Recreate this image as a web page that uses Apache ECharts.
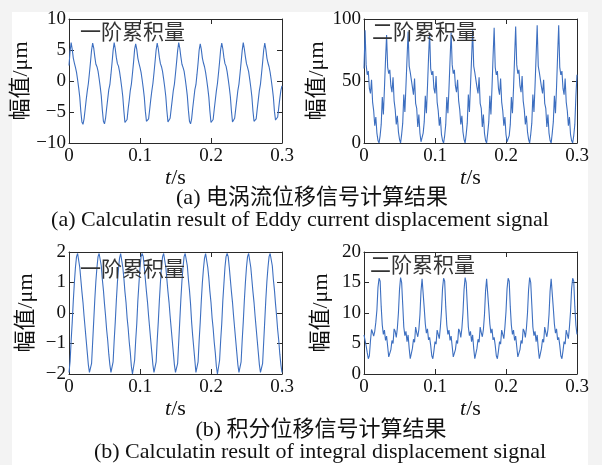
<!DOCTYPE html>
<html>
<head>
<meta charset="utf-8">
<script src="https://cdn.jsdelivr.net/npm/echarts@6/dist/echarts.min.js"></script>
<style>
  html, body { margin: 0; padding: 0; background: #f3f3f3; }
  #chart { width: 602px; height: 465px; }
</style>
</head>
<body>
<div id="chart"></div>
<script>
// sample step of all four signals, s
const dt = 0.001515;

const timeTicks = [0, 0.1, 0.2, 0.3];

// (a) eddy current signal, first order cumulant, um
const eddyFirst = [
  2.5, 4.8,
  6.2, 5.1, 3.7, 2.9, 2.2, 1.4, 0.2, -1.1, -2.6, -4.9, -6.6, -7.0, -6.1, -4.6, -3.0, -1.6, -0.4, 1.3, 3.1, 5.0,
  6.1, 5.3, 3.9, 2.7, 2.3, 1.6, 0.4, -0.9, -2.4, -4.7, -6.5, -6.9, -6.0, -4.4, -2.9, -1.4, -0.6, 1.1, 2.9, 4.9,
  6.2, 5.2, 3.8, 2.8, 2.4, 1.5, 0.3, -1.0, -2.5, -4.8, -6.7, -7.0, -6.2, -4.5, -3.1, -1.5, -0.5, 1.2, 3.0, 5.1,
  6.0, 5.1, 3.7, 2.9, 2.2, 1.4, 0.2, -1.1, -2.6, -4.9, -6.5, -6.8, -6.1, -4.6, -3.0, -1.6, -0.4, 1.3, 3.1, 5.0,
  6.1, 5.2, 3.8, 2.8, 2.3, 1.5, 0.3, -1.0, -2.5, -4.8, -6.6, -6.9, -6.0, -4.5, -3.0, -1.5, -0.5, 1.2, 3.0, 4.9,
  6.2, 5.3, 3.9, 2.7, 2.2, 1.6, 0.4, -0.9, -2.4, -4.7, -6.5, -6.9, -6.1, -4.4, -2.9, -1.4, -0.6, 1.1, 2.9, 5.0,
  6.0, 5.1, 3.7, 2.9, 2.3, 1.4, 0.2, -1.1, -2.6, -4.9, -6.7, -7.0, -6.2, -4.6, -3.1, -1.6, -0.4, 1.3, 3.1, 5.1,
  6.1, 5.2, 3.8, 2.8, 2.4, 1.5, 0.3, -1.0, -2.5, -4.8, -6.6, -6.9, -6.0, -4.5, -3.0, -1.5, -0.5, 1.2, 3.0, 4.9,
  6.2, 5.2, 3.9, 2.8, 2.2, 1.5, 0.3, -1.0, -2.5, -4.8, -6.5, -6.8, -6.1, -4.5, -3.0, -1.5, -0.5, 1.2, 3.0, 5.0,
  6.1, 5.1, 3.7, 2.9, 2.3, 1.4, 0.2, -1.1, -2.6, -4.9, -6.3, -6.6, -5.8, -4.3, -2.8, -1.5, -0.8
];
const eddyFirstTicks = [-10, -5, 0, 5, 10];

// (a) eddy current signal, second order cumulant
const eddySecond = [
  60,
  91, 63, 55, 58, 44, 40, 51, 33, 26, 14, 21, 8, 2, 0, 6, 15, 37, 23, 44, 67,
  87, 61, 56, 59, 46, 41, 53, 34, 27, 15, 22, 9, 3, 0, 7, 16, 39, 25, 46, 68,
  90, 62, 57, 57, 45, 39, 52, 32, 28, 13, 23, 8, 1, 0, 8, 17, 38, 24, 45, 69,
  89, 60, 55, 58, 44, 40, 54, 33, 26, 14, 21, 7, 2, 0, 6, 15, 37, 24, 44, 67,
  89, 63, 56, 59, 46, 41, 51, 34, 27, 15, 22, 9, 3, 0, 7, 16, 39, 25, 46, 68,
  91, 62, 57, 57, 45, 40, 53, 32, 28, 13, 23, 8, 2, 0, 8, 17, 38, 23, 45, 70,
  93, 61, 55, 58, 44, 39, 52, 33, 26, 14, 21, 7, 1, 0, 6, 15, 37, 24, 44, 69,
  94, 63, 56, 59, 46, 41, 54, 34, 27, 15, 22, 9, 3, 0, 7, 16, 39, 25, 46, 70,
  95, 62, 57, 57, 45, 40, 51, 32, 28, 13, 23, 8, 2, 0, 8, 17, 38, 24, 45, 71,
  95, 61, 55, 58, 44, 39, 52, 33, 26, 14, 21, 7, 2, 0, 6, 15, 38, 55
];
const eddySecondTicks = [0, 50, 100];

// (b) integral signal, first order cumulant
const integFirst = [
  -1.95, -1.6, -0.9, -0.3, 0.4, 1.0, 1.5, 1.85, 1.95, 1.9, 1.5, 1.1, 0.7, 0.35, -0.1, -0.5, -0.9, -1.3, -1.7, -1.95,
  -2.0, -1.65, -0.95, -0.25, 0.45, 1.05, 1.5, 1.85, 1.95, 1.9, 1.55, 1.1, 0.75, 0.3, -0.1, -0.55, -0.9, -1.35, -1.7, -1.95,
  -1.95, -1.6, -0.9, -0.3, 0.4, 1.0, 1.45, 1.8, 1.95, 1.9, 1.5, 1.15, 0.7, 0.35, -0.15, -0.5, -0.95, -1.3, -1.75, -2.0,
  -1.95, -1.55, -0.9, -0.35, 0.4, 0.95, 1.5, 1.85, 1.95, 1.85, 1.5, 1.1, 0.7, 0.35, -0.1, -0.5, -0.9, -1.3, -1.7, -1.95,
  -1.95, -1.6, -0.9, -0.3, 0.4, 1.0, 1.5, 1.85, 1.95, 1.9, 1.5, 1.1, 0.7, 0.35, -0.1, -0.5, -0.9, -1.3, -1.7, -1.95,
  -2.0, -1.65, -0.95, -0.25, 0.45, 1.05, 1.5, 1.85, 1.95, 1.9, 1.55, 1.1, 0.75, 0.3, -0.3, -0.75, -1.15, -1.55, -1.95,
  -1.95, -1.6, -0.9, -0.3, 0.4, 1.0, 1.45, 1.8, 1.95, 1.9, 1.5, 1.15, 0.7, 0.35, -0.15, -0.5, -0.95, -1.3, -1.75, -2.0,
  -1.95, -1.55, -0.9, -0.35, 0.4, 0.95, 1.5, 1.85, 1.95, 1.85, 1.5, 1.1, 0.7, 0.35, -0.1, -0.5, -0.9, -1.3, -1.7, -1.95,
  -1.95, -1.6, -0.9, -0.3, 0.4, 1.0, 1.5, 1.85, 1.95, 1.9, 1.5, 1.1, 0.7, 0.35, -0.1, -0.5, -0.9, -1.3, -1.7, -1.95,
  -2.0, -1.65, -0.95, -0.25, 0.45, 1.05, 1.5, 1.85, 1.95, 1.9, 1.55, 1.1, 0.75, 0.3, -0.1, -0.55, -0.9, -1.35, -1.7, -1.95
];
const integFirstTicks = [-2, -1, 0, 1, 2];

// (b) integral signal, second order cumulant
const integSecond = [
  6.4, 5.5, 4.6, 3.5, 2.5, 3.0, 5.4, 7.3, 6.8, 6.2, 7.0, 8.5, 10.5, 14.2,
  15.7, 15.2, 11.0, 8.0, 6.5, 7.2, 5.5, 6.2, 4.5, 2.8, 2.6, 4.0, 5.5, 5.0, 7.4, 7.0, 6.0, 7.5, 10.0, 13.8,
  15.8, 15.0, 11.4, 7.7, 6.3, 7.0, 5.3, 6.4, 4.2, 2.5, 2.7, 4.2, 5.7, 5.2, 7.7, 6.8, 6.1, 7.3, 9.7, 13.6,
  15.6, 15.3, 10.8, 8.2, 6.7, 7.4, 5.6, 6.0, 4.7, 3.0, 2.5, 3.8, 5.3, 4.9, 7.2, 7.1, 5.8, 7.7, 10.2, 14.0,
  15.7, 15.2, 11.0, 8.0, 6.5, 7.2, 5.5, 6.2, 4.5, 2.8, 2.6, 4.0, 5.5, 5.0, 7.4, 7.0, 6.0, 7.5, 10.0, 13.8,
  15.8, 15.0, 11.4, 7.7, 6.3, 7.0, 5.3, 6.4, 4.2, 2.5, 2.7, 4.2, 5.7, 5.2, 7.7, 6.8, 6.1, 7.3, 9.7, 13.6,
  15.6, 15.3, 10.8, 8.2, 6.7, 7.4, 5.6, 6.0, 4.7, 3.0, 2.5, 3.8, 5.3, 4.9, 7.2, 7.1, 5.8, 7.7, 10.2, 14.0,
  15.7, 15.2, 11.0, 8.0, 6.5, 7.2, 5.5, 6.2, 4.5, 2.8, 2.6, 4.0, 5.5, 5.0, 7.4, 7.0, 6.0, 7.5, 10.0, 13.8,
  15.8, 15.0, 11.4, 7.7, 6.3, 7.0, 5.3, 6.4, 4.2, 2.5, 2.7, 4.2, 5.7, 5.2, 7.7, 6.8, 6.1, 7.3, 9.7, 13.6,
  15.6, 15.3, 10.8, 8.2, 6.7, 7.4, 5.6, 6.0, 4.7, 3.0, 2.5, 3.8, 5.3, 4.9, 7.2, 7.1, 5.8, 7.7, 10.2, 14.0,
  15.7, 15.2, 11.0, 8.0, 6.5
];
const integSecondTicks = [0, 5, 10, 15, 20];

const serif = "'Liberation Serif', 'Times New Roman', serif";
const mixed = "'Liberation Serif', 'Noto Sans CJK SC', serif";
const cjk = "'Noto Sans CJK SC', sans-serif";
const lineColor = '#3d6fc0';
const frameColor = '#2a2a2a';
const textColor = '#111';

const panels = [
  { box: { left: 69, top: 19, width: 213, height: 124 }, values: eddyFirst, ticks: eddyFirstTicks, yGap: 37, xGap: 24 },
  { box: { left: 364, top: 19, width: 213, height: 124 }, values: eddySecond, ticks: eddySecondTicks, yGap: 32, xGap: 24 },
  { box: { left: 69, top: 252, width: 213, height: 122 }, values: integFirst, ticks: integFirstTicks, yGap: 32, xGap: 23 },
  { box: { left: 364, top: 252, width: 213, height: 122 }, values: integSecond, ticks: integSecondTicks, yGap: 32, xGap: 23 }
];

const minus = v => String(v).replace('-', '\u2212');

const grid = [], xAxis = [], yAxis = [], series = [];

panels.forEach((p, k) => {
  grid.push(p.box);

  const common = {
    gridIndex: k,
    type: 'value',
    splitLine: { show: false },
    axisLine: { onZero: false, lineStyle: { color: frameColor, width: 1 } },
    axisTick: { inside: true, length: 5, lineStyle: { color: frameColor } }
  };
  const xRange = {
    min: timeTicks[0],
    max: timeTicks[timeTicks.length - 1],
    interval: 0.1
  };
  const yRange = {
    min: p.ticks[0],
    max: p.ticks[p.ticks.length - 1],
    interval: p.ticks[1] - p.ticks[0]
  };

  xAxis.push(Object.assign({}, common, xRange, {
    position: 'bottom',
    axisLabel: {
      margin: 4,
      fontFamily: serif,
      fontSize: 19,
      color: textColor,
      showMinLabel: true,
      showMaxLabel: true,
      formatter: v => String(Math.round(v * 10) / 10)
    },
    name: '{i|t}/s',
    nameLocation: 'middle',
    nameGap: p.xGap,
    nameTextStyle: {
      fontFamily: serif,
      fontSize: 22,
      color: textColor,
      rich: { i: { fontFamily: serif, fontStyle: 'italic', fontSize: 22, color: textColor } }
    }
  }));
  xAxis.push(Object.assign({}, common, xRange, {
    position: 'top',
    axisLabel: { show: false }
  }));

  yAxis.push(Object.assign({}, common, yRange, {
    position: 'left',
    axisLabel: {
      margin: 3,
      fontFamily: serif,
      fontSize: 19,
      color: textColor,
      showMinLabel: true,
      showMaxLabel: true,
      formatter: minus
    },
    name: '幅值/μm',
    nameLocation: 'middle',
    nameRotate: 90,
    nameGap: p.yGap,
    nameTextStyle: { fontFamily: mixed, fontSize: 22, color: textColor }
  }));
  yAxis.push(Object.assign({}, common, yRange, {
    position: 'right',
    axisLabel: { show: false }
  }));

  series.push({
    type: 'line',
    xAxisIndex: 2 * k,
    yAxisIndex: 2 * k,
    data: p.values.map((v, i) => [i * dt, v]),
    showSymbol: false,
    clip: true,
    lineStyle: { color: lineColor, width: 1.1 },
    animation: false
  });
});

const caption = (text, x, y, font) => ({
  type: 'text',
  z: 10,
  style: { text: text, x: x, y: y, align: 'center', verticalAlign: 'middle', font: font, fill: textColor }
});

const tag = (text, x, y) => ({
  type: 'text',
  z: 10,
  style: { text: text, x: x, y: y, align: 'left', verticalAlign: 'middle', font: '21px ' + cjk, fill: '#333' }
});

const chart = echarts.init(document.getElementById('chart'));

chart.setOption({
  animation: false,
  backgroundColor: '#f3f3f3',
  grid: grid,
  xAxis: xAxis,
  yAxis: yAxis,
  series: series,
  graphic: [
    { type: 'rect', z: -10, shape: { x: 12, y: 12, width: 576, height: 453 }, style: { fill: '#fff' } },
    tag('一阶累积量', 80, 31),
    tag('二阶累积量', 372, 31),
    tag('一阶累积量', 80, 268),
    tag('二阶累积量', 370, 264),
    caption('(a) 电涡流位移信号计算结果', 312, 198, '22px ' + mixed),
    caption('(a) Calculatin result of Eddy current displacement signal', 300, 220, '22px ' + serif),
    caption('(b) 积分位移信号计算结果', 321, 430, '22px ' + mixed),
    caption('(b) Calculatin result of integral displacement signal', 320, 452, '22px ' + serif)
  ]
});
</script>
</body>
</html>
